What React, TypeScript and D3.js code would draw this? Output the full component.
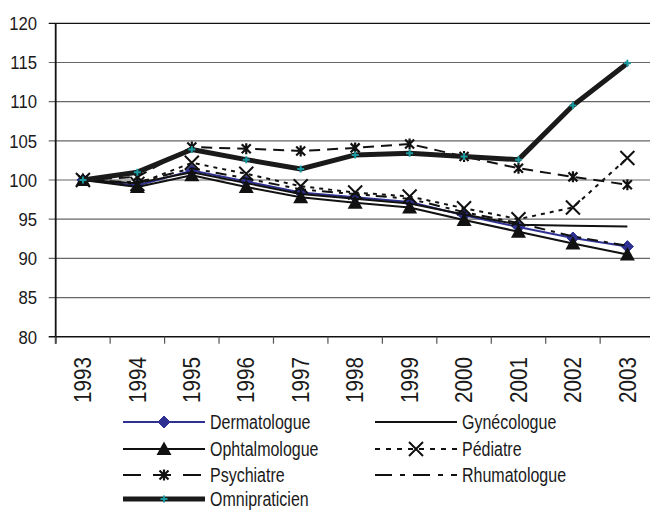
import * as d3 from 'd3';

const years = ['1993', '1994', '1995', '1996', '1997', '1998', '1999', '2000', '2001', '2002', '2003'];
const yTicks = [80, 85, 90, 95, 100, 105, 110, 115, 120];

const dermatologue = [100, 99.3, 101.2, 99.8, 98.4, 97.8, 97.2, 95.5, 94.0, 92.6, 91.5];
const gynecologue = [100, 99.6, 101.0, 99.6, 98.2, 97.6, 97.0, 95.6, 94.3, 94.15, 94.05];
const ophtalmologue = [100, 99.1, 100.6, 99.1, 97.8, 97.1, 96.5, 94.9, 93.4, 91.9, 90.5];
const pediatre = [100, 99.5, 102.2, 100.8, 99.2, 98.4, 97.9, 96.4, 95.0, 96.5, 102.8];
const psychiatre = [100, 100.4, 104.2, 104.0, 103.7, 104.1, 104.6, 103.0, 101.5, 100.4, 99.4];
const rhumatologue = [100, 99.7, 101.5, 100.2, 98.8, 98.2, 97.6, 95.9, 94.5, 92.8, 91.6];
const omnipraticien = [100, 101.0, 103.9, 102.6, 101.4, 103.2, 103.4, 103.0, 102.6, 109.5, 114.9];

const W = 650;
const H = 511;
const PLOT = { left: 55.7, right: 654.6, top: 23.3, bottom: 336.7 };
const FONT = "'Liberation Sans', Arial, sans-serif";
const BLUE = '#2e3192';
const TEAL = '#1a9aa0';
const INK = '#1a1a1a';

type Marker = 'diamond' | 'triangle' | 'x' | 'star' | 'plus' | 'none';

interface Series {
  name: string;
  values: number[];
  color: string;
  width: number;
  dash?: string;
  legendDash?: string;
  marker: Marker;
}

const series: Series[] = [
  { name: 'Dermatologue', values: dermatologue, color: BLUE, width: 2, marker: 'diamond' },
  { name: 'Gynécologue', values: gynecologue, color: '#111', width: 2, marker: 'none' },
  { name: 'Ophtalmologue', values: ophtalmologue, color: '#111', width: 2, marker: 'triangle' },
  { name: 'Pédiatre', values: pediatre, color: '#111', width: 2, dash: '4,5', legendDash: '5,6', marker: 'x' },
  { name: 'Psychiatre', values: psychiatre, color: '#111', width: 2, dash: '11,7', legendDash: '18,12', marker: 'star' },
  { name: 'Rhumatologue', values: rhumatologue, color: '#111', width: 2, dash: '11,6,4,6', legendDash: '17,8,5,8', marker: 'none' },
  { name: 'Omnipraticien', values: omnipraticien, color: '#1a1a1a', width: 5, marker: 'plus' },
];

function MarkerShape({ type, x, y }: { type: Marker; x: number; y: number }) {
  const t = `translate(${x},${y})`;
  switch (type) {
    case 'diamond':
      return <path transform={t} d="M0,-6L6,0L0,6L-6,0Z" fill={BLUE} stroke={BLUE} strokeWidth={1} />;
    case 'triangle':
      return <path transform={t} d="M0,-7.5L7.5,6L-7.5,6Z" fill="#111" />;
    case 'x':
      return <path transform={t} d="M-7,-7L7,7M-7,7L7,-7" stroke="#111" strokeWidth={2} fill="none" />;
    case 'star':
      return <path transform={t} d="M-4.5,-4.5L4.5,4.5M-4.5,4.5L4.5,-4.5M0,-5.5L0,5.5" stroke="#111" strokeWidth={2.2} fill="none" />;
    case 'plus':
      return <path transform={t} d="M-3.5,0L3.5,0M0,-3.5L0,3.5" stroke={TEAL} strokeWidth={2} fill="none" />;
    default:
      return null;
  }
}

// condensed text: Liberation Sans squeezed horizontally
function Label({ x, y, size, sx, anchor, rotate, children }: {
  x: number; y: number; size: number; sx: number; anchor?: string; rotate?: number; children: string;
}) {
  const rot = rotate ? ` rotate(${rotate})` : '';
  return (
    <text
      transform={`translate(${x},${y})${rot} scale(${sx},1)`}
      textAnchor={anchor ?? 'start'}
      fontSize={size}
      fill={INK}
    >
      {children}
    </text>
  );
}

export default function App() {
  const x = d3.scaleBand<string>().domain(years).range([PLOT.left, PLOT.right]).padding(0);
  const y = d3.scaleLinear().domain([80, 120]).range([PLOT.bottom, PLOT.top]);
  const cx = (yr: string) => (x(yr) ?? 0) + x.bandwidth() / 2;

  const line = d3
    .line<number>()
    .x((_, i) => cx(years[i]))
    .y((d) => y(d));

  // legend: two columns, filled row by row
  const legendRows = [422, 449, 475, 499];
  const legendCols = [123, 375];

  return (
    <svg
      width={W}
      height={H}
      style={{ position: 'absolute', left: 0, top: 0, background: '#fff' }}
      fontFamily={FONT}
    >
      {/* grid */}
      {yTicks.map((t) => (
        <line
          key={'g' + t}
          x1={PLOT.left - 7}
          x2={W}
          y1={y(t)}
          y2={y(t)}
          stroke={t === 120 || t === 80 ? '#111' : '#666'}
          strokeWidth={t === 80 ? 1.6 : 1.2}
        />
      ))}
      {yTicks.map((t) => (
        <Label key={'yl' + t} x={37} y={y(t) + 6.8} size={19} sx={0.88} anchor="end">
          {String(t)}
        </Label>
      ))}
      {/* y axis */}
      <line x1={PLOT.left} x2={PLOT.left} y1={PLOT.top} y2={PLOT.bottom + 7} stroke="#111" strokeWidth={1.8} />
      {/* x ticks */}
      {years.map((yr) => (
        <line
          key={'xt' + yr}
          x1={x(yr) ?? 0}
          x2={x(yr) ?? 0}
          y1={PLOT.bottom}
          y2={PLOT.bottom + 7}
          stroke="#555"
          strokeWidth={1.2}
        />
      ))}
      {years.map((yr) => (
        <Label key={'xl' + yr} x={cx(yr) + 8.2} y={357} size={23} sx={0.9} anchor="end" rotate={-90}>
          {yr}
        </Label>
      ))}

      {/* series */}
      {series.map((s) => (
        <g key={s.name}>
          <path
            d={line(s.values) ?? ''}
            fill="none"
            stroke={s.color}
            strokeWidth={s.width}
            strokeDasharray={s.dash}
            strokeLinejoin="round"
          />
          {s.values.map((v, i) => (
            <MarkerShape key={i} type={s.marker} x={cx(years[i])} y={y(v)} />
          ))}
        </g>
      ))}

      {/* legend */}
      {series.map((s, i) => {
        const col = legendCols[i % 2];
        const row = legendRows[Math.floor(i / 2)];
        const x1 = col;
        const x2 = col + 82;
        return (
          <g key={'lg' + s.name}>
            <line
              x1={x1}
              x2={x2}
              y1={row}
              y2={row}
              stroke={s.color}
              strokeWidth={s.width}
              strokeDasharray={s.legendDash ?? s.dash}
            />
            <MarkerShape type={s.marker} x={(x1 + x2) / 2} y={row} />
            <Label x={x2 + 5} y={row + 7} size={20} sx={0.8}>
              {s.name}
            </Label>
          </g>
        );
      })}
    </svg>
  );
}
